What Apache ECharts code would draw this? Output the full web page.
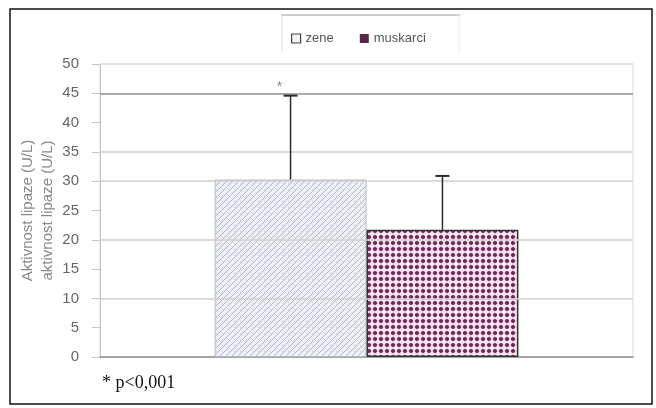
<!DOCTYPE html>
<html>
<head>
<meta charset="utf-8">
<script src="https://cdn.jsdelivr.net/npm/echarts@6/dist/echarts.min.js"></script>
<style>
  html, body { margin: 0; padding: 0; background: #fff; }
  #chart { width: 656px; height: 408px; }
</style>
</head>
<body>
<div id="chart"></div>
<script>
// Lipase activity by group: mean bar with SD whisker
const categories = [''];
const groupNames = ['zene', 'muskarci'];
const means = [30.3, 21.7];
const sds = [14.3, 9.2];
const sigMarks = ['*', ''];
const yMin = 0, yMax = 50, yStep = 5;
const gridValues = [10, 20, 30, 35, 45, 50];
const axisTitle = 'Aktivnost lipaze (U/L)\naktivnost lipaze (U/L)';
const footnote = '* p<0,001';

// fill patterns for the two bars
function hatchPattern() {
  const c = document.createElement('canvas');
  c.width = 6; c.height = 6;
  const g = c.getContext('2d');
  g.fillStyle = '#eef0f8';
  g.fillRect(0, 0, 6, 6);
  g.strokeStyle = '#b4b4c8';
  g.lineWidth = 1;
  g.beginPath();
  g.moveTo(-1, 7); g.lineTo(7, -1);
  g.moveTo(-1, 1); g.lineTo(1, -1);
  g.moveTo(5, 7); g.lineTo(7, 5);
  g.stroke();
  g.fillStyle = '#d0d0dc';
  g.fillRect(0, 3, 1, 1);
  return c;
}
function dotPattern() {
  const c = document.createElement('canvas');
  c.width = 6; c.height = 6;
  const g = c.getContext('2d');
  g.fillStyle = '#fbe6f4';
  g.fillRect(0, 0, 6, 6);
  g.fillStyle = '#e3b8d2';
  g.fillRect(0, 2.5, 6, 1);
  g.fillRect(2.5, 0, 1, 6);
  g.fillStyle = '#6a2a55';
  g.beginPath();
  g.arc(3, 3, 2.1, 0, Math.PI * 2);
  g.fill();
  return c;
}
const fills = [
  { image: hatchPattern(), repeat: 'repeat' },
  { image: dotPattern(), repeat: 'repeat' }
];
const legendColors = ['#f2f2f6', '#5a2648'];

// horizontal guide lines; the one at 45 is drawn heavier
function gridColor(v) {
  if (v === 45) return '#8f8f8f';
  if (v === 50) return '#dcdcdc';
  return '#cfcfcf';
}

const gapRatio = 0.43;

const barSeries = groupNames.map((name, i) => ({
  name: name,
  type: 'bar',
  barGap: 0,
  barCategoryGap: (gapRatio * 100) + '%',
  data: [means[i]],
  itemStyle: {
    color: fills[i],
    borderColor: i === 0 ? '#b8b8c4' : '#333333',
    borderWidth: i === 0 ? 1 : 1.5
  },
  z: 3
}));

const guideSeries = {
  type: 'line',
  data: [],
  z: 1,
  silent: true,
  markLine: {
    silent: true,
    symbol: 'none',
    label: { show: false },
    animation: false,
    data: gridValues.map(v => ({
      yAxis: v,
      lineStyle: { type: 'solid', color: gridColor(v), width: 1.5 }
    }))
  }
};

const errData = groupNames.map((name, i) => [0, means[i], sds[i], i, sigMarks[i]]);

const errSeries = {
  type: 'custom',
  data: errData,
  z: 5,
  silent: true,
  renderItem: function (params, api) {
    const band = api.size([1, 0])[0];
    const barW = band * (1 - gapRatio) / 2;
    const idx = api.value(3);
    const base = api.coord([api.value(0), api.value(1)]);
    const top = api.coord([api.value(0), api.value(1) + api.value(2)]);
    const x = base[0] + (idx === 0 ? -barW / 2 : barW / 2);
    const capHalf = 7;
    const children = [
      { type: 'line', shape: { x1: x, y1: base[1], x2: x, y2: top[1] },
        style: { stroke: '#2a2a2a', lineWidth: 1.5 } },
      { type: 'line', shape: { x1: x - capHalf, y1: top[1], x2: x + capHalf, y2: top[1] },
        style: { stroke: '#2a2a2a', lineWidth: 2 } }
    ];
    const mark = errData[params.dataIndex][4];
    if (mark) {
      children.push({ type: 'text', style: {
        text: mark, x: x - 11, y: top[1] - 9, align: 'center', verticalAlign: 'middle',
        fill: '#8a8a8a', font: '14px Arial' } });
    }
    return { type: 'group', children: children };
  }
};

const chart = echarts.init(document.getElementById('chart'), null, { renderer: 'canvas' });
chart.setOption({
  animation: false,
  backgroundColor: '#ffffff',
  grid: {
    left: 100, right: 23, top: 64, bottom: 51,
    outerBoundsMode: 'none',
    containLabel: false,
    show: true, borderColor: '#dadada', borderWidth: 1
  },
  legend: {
    left: 286, top: 27,
    itemWidth: 9, itemHeight: 9, itemGap: 26,
    icon: 'rect',
    textStyle: { fontFamily: 'Arial', fontSize: 13, color: '#555' },
    data: groupNames.map((n, i) => ({
      name: n,
      itemStyle: { color: legendColors[i], borderColor: '#444', borderWidth: i === 0 ? 1.2 : 0 }
    }))
  },
  xAxis: {
    type: 'category',
    data: categories,
    axisLine: { lineStyle: { color: '#8a8a8a', width: 1.5 } },
    axisTick: { show: false },
    axisLabel: { show: false },
    splitLine: { show: false }
  },
  yAxis: {
    type: 'value',
    min: yMin, max: yMax, interval: yStep,
    name: axisTitle,
    nameLocation: 'middle',
    nameRotate: 90,
    nameGap: 42,
    nameMoveOverlap: false,
    nameTextStyle: { fontFamily: 'Arial', fontSize: 15, color: '#888', lineHeight: 20 },
    axisLine: { show: true, lineStyle: { color: '#c4c4c4', width: 1 } },
    axisTick: { show: true, length: 8, lineStyle: { color: '#c4c4c4' } },
    axisLabel: { fontFamily: 'Arial', fontSize: 15, color: '#666', margin: 21 },
    splitLine: { show: false },
    minorSplitLine: { show: false }
  },
  series: [guideSeries].concat(barSeries, [errSeries]),
  graphic: [
    { type: 'rect', shape: { x: 10, y: 9, width: 642, height: 395 },
      style: { fill: 'none', stroke: '#111', lineWidth: 1.5 }, silent: true },
    { type: 'line', shape: { x1: 281, y1: 15, x2: 460, y2: 15 },
      style: { stroke: '#9a9a9a', lineWidth: 1.2 }, silent: true },
    { type: 'line', shape: { x1: 282, y1: 15, x2: 282, y2: 53 },
      style: { stroke: '#dddddd', lineWidth: 1 }, silent: true },
    { type: 'line', shape: { x1: 459, y1: 15, x2: 459, y2: 53 },
      style: { stroke: '#eeeeee', lineWidth: 1 }, silent: true },
    { type: 'text', left: 102, top: 374,
      style: { text: footnote, font: '18px "Liberation Serif", "Times New Roman", serif', fill: '#111' } }
  ]
});
</script>
</body>
</html>
